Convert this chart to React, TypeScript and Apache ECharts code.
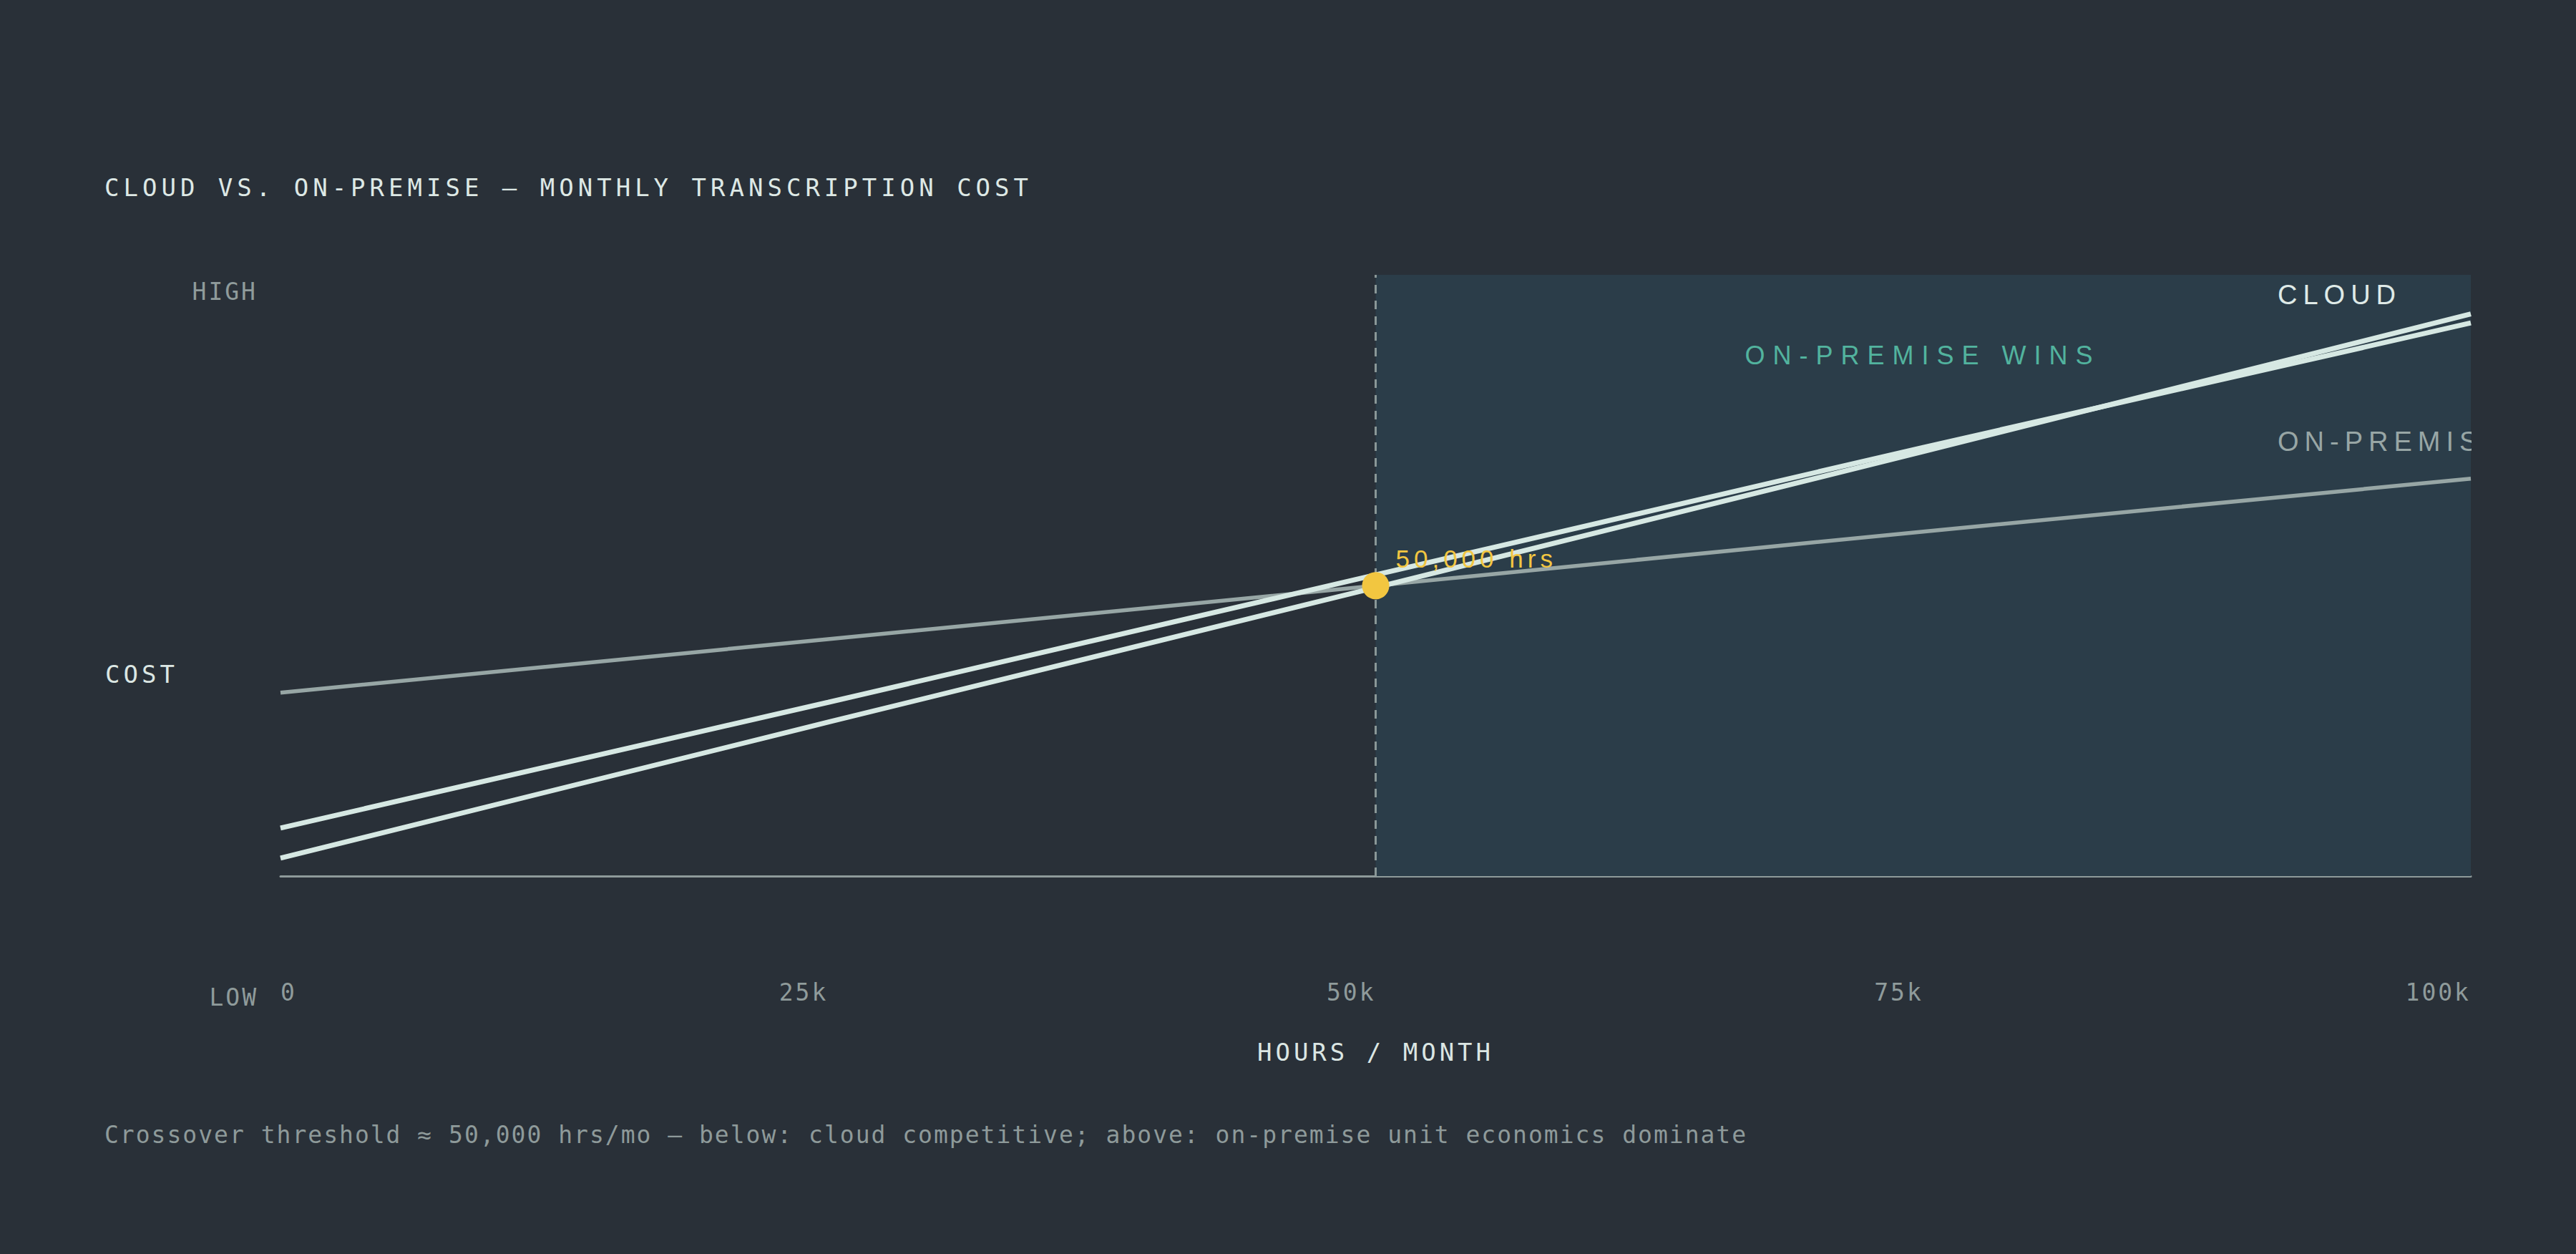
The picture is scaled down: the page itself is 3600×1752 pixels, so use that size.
import { useEffect, useRef } from 'react'
import * as echarts from 'echarts'

// Cost curves (y is a unitless 0–100 "cost" scale).
const HOURS = [0, 25000, 50000, 75000, 100000]
const X_TICKS = ['0', '25k', '50k', '75k', '100k']
const CLOUD_A = [8.0, 28.9, 50.1, 71.3, 92.0]
const CLOUD_B = [3.0, 25.6, 48.0, 70.6, 93.5]
const ON_PREM = [30.5, 39.4, 48.3, 57.3, 66.1]
const CROSS_HOURS = [50000]
const CROSS_COST = [48.3]
const CROSS_LABEL = '50,000 hrs'
const WIN_FROM = 50000
const WIN_TO = 100000

const TITLE = 'CLOUD VS. ON-PREMISE — MONTHLY TRANSCRIPTION COST'
const FOOTER =
  'Crossover threshold ≈ 50,000 hrs/mo — below: cloud competitive; above: on-premise unit economics dominate'
const X_NAME = 'HOURS / MONTH'
const Y_NAME = 'COST'
const Y_HIGH = 'HIGH'
const Y_LOW = 'LOW'
const CLOUD_TAG = 'CLOUD'
const PREM_TAG = 'ON-PREMISE'
const WIN_TAG = 'ON-PREMISE WINS'

const C = {
  bg: '#293038',
  shade: '#2b3d49',
  cloud: '#d6e8e3',
  prem: '#97a6a5',
  axis: '#8e9a9a',
  dash: '#8a9797',
  dot: '#f2c640',
  // text fills double as letter-spacing hooks (see SPACING)
  title: '#dde8e5',
  name: '#dbe6e3',
  tick: '#8f9b9b',
  foot: '#8e9a9a',
  win: '#52b39e',
  cloudTag: '#dfeae7',
  premTag: '#98a6a5',
  dotTag: '#f2c641',
} as const

const SPACING: Record<string, number> = {
  [C.title]: 6,
  [C.name]: 5,
  [C.tick]: 3,
  [C.foot]: 2,
  [C.win]: 11,
  [C.cloudTag]: 8,
  [C.premTag]: 8,
  [C.dotTag]: 6,
}

const MONO = '"DejaVu Sans Mono", monospace'
const SANS = '"Liberation Sans", Arial, sans-serif'

const css = Object.entries(SPACING)
  .map(([fill, px]) => `.cost-chart text[fill="${fill}"]{letter-spacing:${px}px}`)
  .join('\n')

function text(
  str: string,
  x: number,
  y: number,
  fill: string,
  font: string,
  align: 'left' | 'center' | 'right' = 'left',
  z = 100,
) {
  return {
    type: 'text',
    x,
    y,
    z,
    silent: true,
    style: {
      text: str,
      fill,
      font,
      align,
      verticalAlign: 'middle',
      textAlign: align,
      textVerticalAlign: 'middle',
    },
  }
}

function buildOption(): echarts.EChartsOption {
  const pts = (ys: number[]) => HOURS.map((h, i) => [h, ys[i]])
  return {
    animation: false,
    backgroundColor: C.bg,
    grid: { left: 392, right: 147, top: 384, bottom: 528, containLabel: false },
    xAxis: {
      type: 'value',
      min: 0,
      max: 100000,
      interval: 25000,
      name: X_NAME,
      nameLocation: 'middle',
      nameGap: 246,
      nameTextStyle: {
        color: C.name,
        fontFamily: MONO,
        fontSize: 34,
        verticalAlign: 'middle',
      },
      axisLine: { lineStyle: { color: C.axis, width: 3 } },
      axisTick: { show: false },
      splitLine: { show: false },
      axisLabel: {
        margin: 162,
        color: C.tick,
        fontFamily: MONO,
        fontSize: 33,
        verticalAlign: 'middle',
        align: 'right',
        alignMinLabel: 'left',
        alignMaxLabel: 'right',
        formatter: (v: number) => X_TICKS[HOURS.indexOf(v)] ?? '',
      },
    },
    yAxis: { type: 'value', min: 0, max: 100, show: false },
    series: [
      {
        name: 'On-premise',
        type: 'line',
        data: pts(ON_PREM),
        showSymbol: false,
        z: 3,
        lineStyle: { color: C.prem, width: 5.5 },
        emphasis: { disabled: true },
        markArea: {
          silent: true,
          itemStyle: { color: C.shade, opacity: 1 },
          data: [[{ xAxis: WIN_FROM }, { xAxis: WIN_TO }]],
        },
        markLine: {
          silent: true,
          symbol: 'none',
          z: 1,
          label: { show: false },
          lineStyle: { color: C.dash, width: 3, type: [12, 10] },
          data: [{ xAxis: CROSS_HOURS[0] }],
        },
      },
      {
        name: 'Cloud A',
        type: 'line',
        data: pts(CLOUD_A),
        showSymbol: false,
        z: 4,
        lineStyle: { color: C.cloud, width: 7 },
        emphasis: { disabled: true },
      },
      {
        name: 'Cloud B',
        type: 'line',
        data: pts(CLOUD_B),
        showSymbol: false,
        z: 4,
        lineStyle: { color: C.cloud, width: 7 },
        emphasis: { disabled: true },
      },
      {
        name: 'Crossover',
        type: 'scatter',
        data: CROSS_HOURS.map((h, i) => [h, CROSS_COST[i]]),
        symbolSize: 38,
        z: 10,
        itemStyle: { color: C.dot, opacity: 1 },
        label: {
          show: true,
          formatter: CROSS_LABEL,
          position: [47, -19],
          align: 'left',
          verticalAlign: 'middle',
          color: C.dotTag,
          fontFamily: SANS,
          fontSize: 35,
        },
        emphasis: { disabled: true },
      },
    ],
    graphic: [
      text(TITLE, 146, 262, C.title, `34px ${MONO}`),
      text(Y_HIGH, 360, 407, C.tick, `33px ${MONO}`, 'right'),
      text(Y_NAME, 147, 942, C.name, `34px ${MONO}`),
      text(Y_LOW, 361, 1393, C.tick, `33px ${MONO}`, 'right'),
      text(FOOTER, 146, 1585, C.foot, `33px ${MONO}`),
      text(WIN_TAG, 2687, 496, C.win, `36px ${SANS}`, 'center'),
      text(CLOUD_TAG, 3183, 412, C.cloudTag, `38px ${SANS}`),
      text(PREM_TAG, 3183, 617, C.premTag, `38px ${SANS}`),
      // the on-premise tag runs past the plot edge and is cut there
      {
        type: 'rect',
        z: 200,
        silent: true,
        shape: { x: 3454, y: 585, width: 146, height: 70 },
        style: { fill: C.bg },
      },
    ],
  }
}

export default function App() {
  const ref = useRef<HTMLDivElement>(null)

  useEffect(() => {
    const el = ref.current
    if (!el) return
    const chart = echarts.init(el, null, { renderer: 'svg' })
    chart.setOption(buildOption())
    const onResize = () => chart.resize()
    window.addEventListener('resize', onResize)
    return () => {
      window.removeEventListener('resize', onResize)
      chart.dispose()
    }
  }, [])

  return (
    <>
      <style>{css}</style>
      <div
        ref={ref}
        className="cost-chart"
        style={{
          position: 'fixed',
          left: 0,
          top: 0,
          width: 3600,
          height: 1752,
          background: C.bg,
        }}
      />
    </>
  )
}
